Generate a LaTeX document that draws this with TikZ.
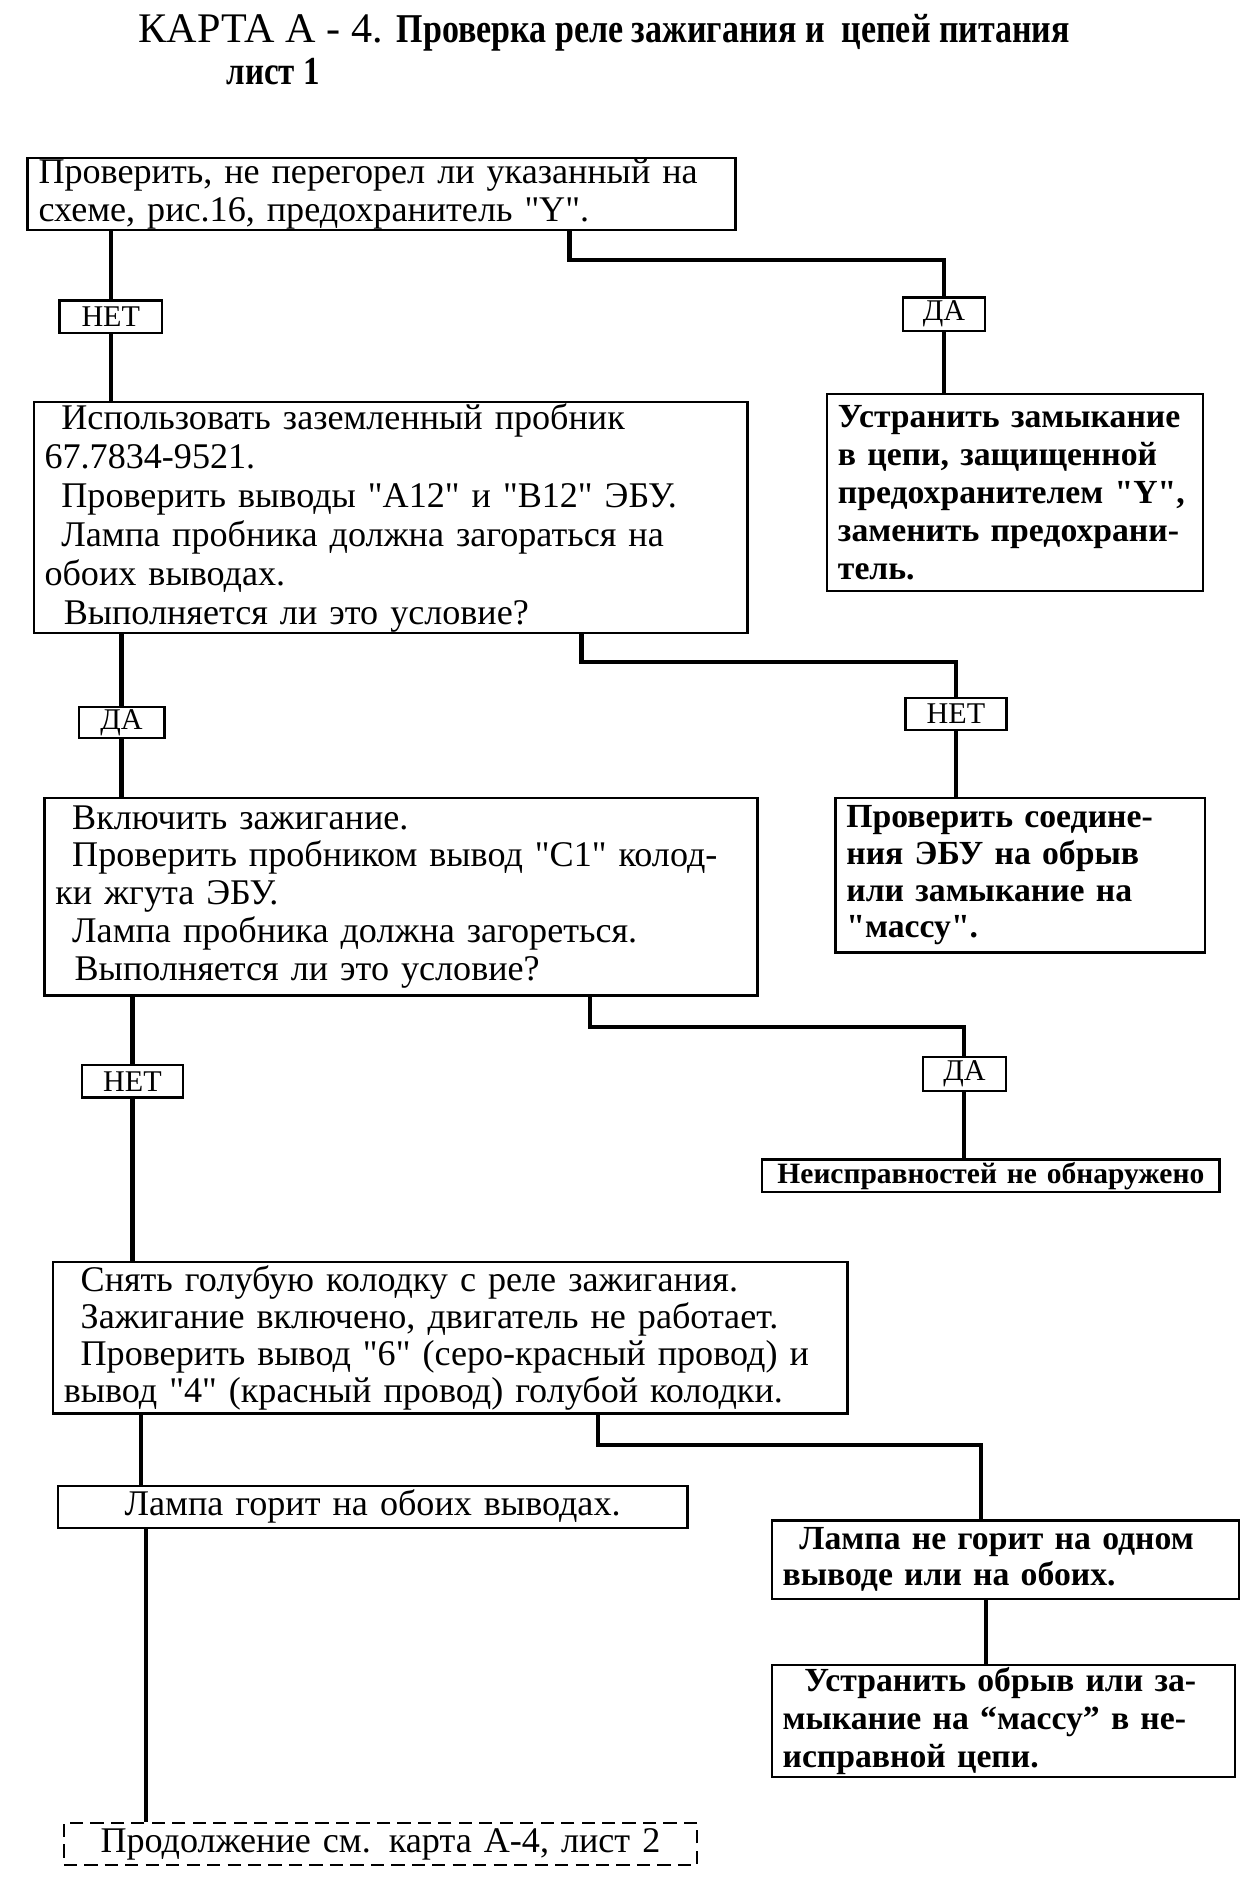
\documentclass[tikz,border=0pt]{standalone}
\usepackage{fontspec}
\setmainfont{Liberation Serif}
\newfontfamily\condbold[FakeStretch=0.83]{Liberation Serif Bold}
\newcommand\qq{\textquotedbl}
\begin{document}
\begin{tikzpicture}[x=1pt,y=-1pt,
  box/.style={draw, line width=2pt, rectangle, inner xsep=8pt, inner ysep=0pt, anchor=north west, align=left, font=\fontsize{30}{31.5}\selectfont},
  bbox/.style={box, font=\fontsize{28}{31.5}\selectfont\bfseries},
  lab/.style={draw, line width=2pt, rectangle, inner sep=0pt, font=\fontsize{25}{26}\selectfont},
  conn/.style={line width=3.5pt, line join=miter}
]
\useasboundingbox (0,0) rectangle (1030,1564);

% title
\node[anchor=base west, inner sep=0pt, font=\fontsize{35}{38}\selectfont] (t1) at (115,35) {КАРТА А - 4. {\fontsize{34}{38}\condbold Проверка реле зажигания и\ \ цепей питания}};
\node[anchor=base west, inner sep=0pt, font=\fontsize{33}{36}\condbold] (t2) at (188,70) {лист 1};

% boxes
\node[box, minimum width=588pt, minimum height=60pt, text width=570pt] (b1) at (22,130)
 {Проверить, не перегорел ли указанный на\\схеме, рис.16, предохранитель \qq Y\qq.};

\node[box, minimum width=593pt, minimum height=192pt, text width=575pt, font=\fontsize{30}{32.4}\selectfont] (b2) at (27,333)
 {\hspace*{14pt}Использовать заземленный пробник\\
  67.7834-9521.\\
  \hspace*{14pt}Проверить выводы \qq А12\qq{} и \qq В12\qq{} ЭБУ.\\
  \hspace*{14pt}Лампа пробника должна загораться на\\
  обоих выводах.\\
  \hspace*{16pt}Выполняется ли это условие?};

\node[bbox, minimum width=312pt, minimum height=164pt, text width=294pt] (b3) at (686,326)
 {Устранить замыкание\\в цепи, защищенной\\предохранителем \qq Y\qq,\\заменить предохрани-\\тель.};

\node[box, minimum width=592pt, minimum height=164pt, text width=574pt] (b4) at (36,662)
 {\hspace*{14pt}Включить зажигание.\\
  \hspace*{14pt}Проверить пробником вывод \qq C1\qq{} колод-\\
  ки жгута ЭБУ.\\
  \hspace*{14pt}Лампа пробника должна загореться.\\
  \hspace*{16pt}Выполняется ли это условие?};

\node[bbox, minimum width=307pt, minimum height=128pt, text width=289pt, font=\fontsize{28}{30.5}\selectfont\bfseries] (b5) at (693,662)
 {Проверить соедине-\\ния ЭБУ на обрыв\\или замыкание на\\\qq массу\qq.};

\node[box, minimum width=380pt, minimum height=27pt, text width=362pt, align=center, font=\fontsize{24.5}{25}\selectfont\bfseries] (b7) at (632,962)
 {Неисправностей не обнаружено};

\node[box, minimum width=660pt, minimum height=126pt, text width=642pt, font=\fontsize{30}{30.7}\selectfont] (b6) at (43,1047)
 {\hspace*{14pt}Снять голубую колодку с реле зажигания.\\
  \hspace*{14pt}Зажигание включено, двигатель не работает.\\
  \hspace*{14pt}Проверить вывод \qq 6\qq{} (серо-красный провод) и\\
  вывод \qq 4\qq{} (красный провод) голубой колодки.};

\node[box, minimum width=523pt, minimum height=35pt, text width=505pt, align=center] (b8) at (47,1233)
 {Лампа горит на обоих выводах.};

\node[bbox, minimum width=388pt, minimum height=65pt, text width=370pt, font=\fontsize{28}{30}\selectfont\bfseries] (b9) at (640,1262)
 {\hspace*{14pt}Лампа не горит на одном\\выводе или на обоих.};

\node[bbox, minimum width=385pt, minimum height=93pt, text width=367pt] (b10) at (640,1382)
 {\hspace*{18pt}Устранить обрыв или за-\\мыкание на “массу” в не-\\исправной цепи.};

\node[box, dash pattern=on 11pt off 6pt, minimum width=526pt, minimum height=35pt, text width=508pt, align=center] (b11) at (52,1513)
 {Продолжение см. карта А-4, лист 2};

% labels
\node[lab, minimum width=85pt, minimum height=27pt] (l1) at (92,263) {НЕТ};
\node[lab, minimum width=68pt, minimum height=28pt] (l2) at (784,261) {ДА};
\node[lab, minimum width=71pt, minimum height=26pt] (l3) at (101,600) {ДА};
\node[lab, minimum width=84pt, minimum height=27pt] (l4) at (794,593) {НЕТ};
\node[lab, minimum width=84pt, minimum height=27pt] (l5) at (110,898) {НЕТ};
\node[lab, minimum width=69pt, minimum height=28pt] (l6) at (801,892) {ДА};

% corner coordinates
\coordinate (c1) at (473,216);
\coordinate (c2) at (483,550);
\coordinate (c3) at (490,853);
\coordinate (c4) at (497,1200);
\coordinate (v1) at (117,1210);
\coordinate (v2) at (121,1400);
\coordinate (v3) at (815,1230);
\coordinate (v4) at (819,1350);

% connectors
\draw[conn] (b1.south -| l1) -- (l1.north);
\draw[conn] (l1.south) -- (b2.north -| l1);
\draw[conn] (b1.south -| c1) -- (c1) -- (c1 -| l2) -- (l2.north);
\draw[conn] (l2.south) -- (b3.north -| l2);

\draw[conn] (b2.south -| l3) -- (l3.north);
\draw[conn] (l3.south) -- (b4.north -| l3);
\draw[conn] (b2.south -| c2) -- (c2) -- (c2 -| l4) -- (l4.north);
\draw[conn] (l4.south) -- (b5.north -| l4);

\draw[conn] (b4.south -| l5) -- (l5.north);
\draw[conn] (l5.south) -- (b6.north -| l5);
\draw[conn] (b4.south -| c3) -- (c3) -- (c3 -| l6) -- (l6.north);
\draw[conn] (l6.south) -- (b7.north -| l6);

\draw[conn] (b6.south -| v1) -- (b8.north -| v1);
\draw[conn] (b8.south -| v2) -- (b11.north -| v2);
\draw[conn] (b6.south -| c4) -- (c4) -- (c4 -| v3) -- (b9.north -| v3);
\draw[conn] (b9.south -| v4) -- (b10.north -| v4);
\end{tikzpicture}
\end{document}
